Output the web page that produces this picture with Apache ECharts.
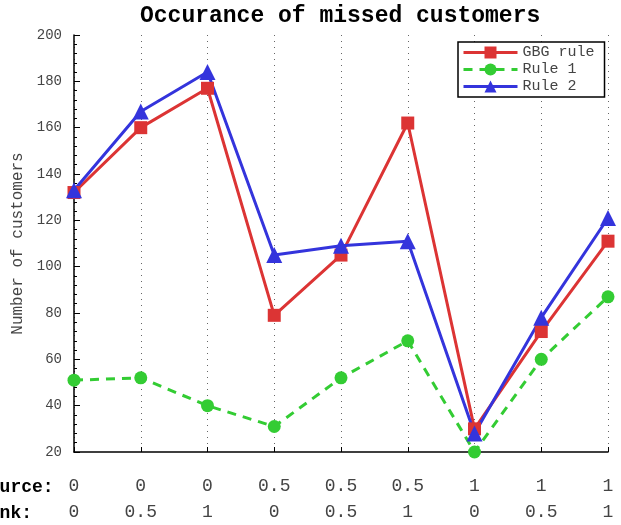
<!DOCTYPE html>
<html>
<head>
<meta charset="utf-8">
<script src="https://cdn.jsdelivr.net/npm/echarts@6/dist/echarts.min.js"></script>
<style>
  html, body { margin: 0; padding: 0; background: #fff; }
  #chart { width: 621px; height: 525px; }
</style>
</head>
<body>
<div id="chart"></div>
<script>
// Source / sink weights for each scenario along the x axis
const sources = ['0', '0', '0', '0.5', '0.5', '0.5', '1', '1', '1'];
const sinks   = ['0', '0.5', '1', '0', '0.5', '1', '0', '0.5', '1'];

// Missed customers per rule
const gbgRule = [132, 160, 177, 79, 105, 162, 30, 72, 111];
const rule1   = [51, 52, 40, 31, 52, 68, 20, 60, 87];
const rule2   = [133, 167, 184, 105, 109, 111, 28, 78, 121];

const yTicks = { min: 20, max: 200, step: 20 };

const categories = sources.map((s, i) => s + '\n' + sinks[i]);

const FONT = '"Liberation Mono", "DejaVu Sans Mono", monospace';
const RED = '#dc3434', GREEN = '#33cc33', BLUE = '#3434dc';

const chart = echarts.init(document.getElementById('chart'), null, { renderer: 'canvas' });

chart.setOption({
  animation: false,
  backgroundColor: '#fff',
  title: {
    text: 'Occurance of missed customers',
    left: 135,
    top: 0,
    textStyle: { fontFamily: FONT, fontWeight: 'bold', fontSize: 23, color: '#000' }
  },
  grid: { left: 74, right: 13, top: 35, bottom: 69, containLabel: false },
  legend: {
    orient: 'vertical',
    left: 458,
    top: 42,
    itemGap: 2,
    itemWidth: 54,
    itemHeight: 15,
    padding: [3, 10, 3, 4],
    backgroundColor: '#fff',
    borderColor: '#000',
    borderWidth: 1.5,
    borderRadius: 0,
    lineStyle: { width: 3 },
    textStyle: { fontFamily: FONT, fontSize: 15, color: '#444' },
    data: ['GBG rule', 'Rule 1', 'Rule 2']
  },
  xAxis: {
    type: 'category',
    data: categories,
    boundaryGap: false,
    axisLine: { show: true, lineStyle: { color: '#000', width: 1.5 } },
    axisTick: { show: true, inside: true, length: 5, lineStyle: { color: '#000' } },
    axisLabel: {
      fontFamily: FONT, fontSize: 18, color: '#444',
      lineHeight: 26, margin: 21, interval: 0
    },
    splitLine: { show: true, lineStyle: { color: '#666', type: [1, 5], width: 1 } }
  },
  yAxis: {
    type: 'value',
    min: yTicks.min,
    max: yTicks.max,
    interval: yTicks.step,
    name: 'Number of customers',
    nameLocation: 'middle',
    nameGap: 45,
    nameTextStyle: { fontFamily: FONT, fontSize: 16, color: '#444' },
    axisLine: { show: true, lineStyle: { color: '#000', width: 1.5 } },
    axisTick: { show: true, inside: true, length: 6, lineStyle: { color: '#000' } },
    minorTick: { show: true, splitNumber: 5, length: 3, lineStyle: { color: '#000' } },
    axisLabel: { fontFamily: FONT, fontSize: 14, color: '#444', margin: 12 },
    splitLine: { show: false }
  },
  graphic: [
    { type: 'text', left: -22, top: 478,
      style: { text: 'Source:', font: 'bold 18px ' + FONT, fill: '#000' } },
    { type: 'text', left: -22, top: 504,
      style: { text: 'Sink:', font: 'bold 18px ' + FONT, fill: '#000' } }
  ],
  series: [
    {
      name: 'GBG rule', type: 'line', data: gbgRule,
      symbol: 'rect', symbolSize: 13,
      lineStyle: { color: RED, width: 3 },
      itemStyle: { color: RED }
    },
    {
      name: 'Rule 1', type: 'line', data: rule1,
      symbol: 'circle', symbolSize: 13,
      lineStyle: { color: GREEN, width: 3, type: [9, 7] },
      itemStyle: { color: GREEN }
    },
    {
      name: 'Rule 2', type: 'line', data: rule2,
      symbol: 'triangle', symbolSize: 16,
      lineStyle: { color: BLUE, width: 3 },
      itemStyle: { color: BLUE }
    }
  ]
});
</script>
</body>
</html>
